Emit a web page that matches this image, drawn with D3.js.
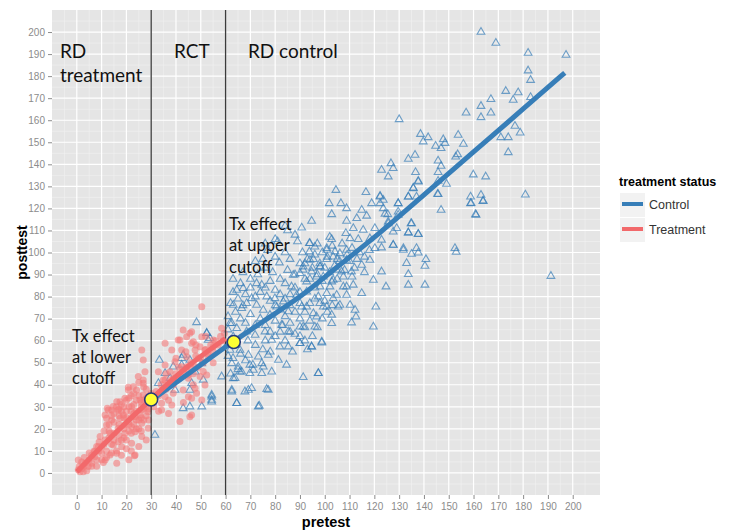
<!DOCTYPE html>
<html>
<head>
<meta charset="utf-8">
<script src="https://cdn.jsdelivr.net/npm/d3@7"></script>
<style>
body { margin: 0; background: #fff; }
svg { display: block; }
</style>
</head>
<body>
<div id="chart"></div>
<script>
// pretest / posttest pairs
const controlPoints = [
  [163,200],[169,195],[182,190.5],[197.3,189.6],[182,182.5],[183,178.2],[173,173.2],[178,172.6],[176,169.2],[183,170.4],
  [167,169.5],[163,166.4],[167,163.4],[163,161.3],[157,163.4],[130,160.4],[176.7,157.4],[178.8,154.3],[174,152.2],[171,152.2],
  [174,145.4],[153.8,153.3],[155.9,149.2],[138.6,153.7],[141.7,152.2],[139.7,150.3],[147.8,151.3],[148.5,149.6],[144.7,148.3],[146.9,147.3],
  [153.6,144.5],[152.8,143.4],[136.4,144.2],[133.7,142.4],[126.7,140.4],[127.6,138.2],[122.9,137.4],[125.6,134.4],[145.7,141.6],[146.9,139.2],
  [145.7,136.4],[136.6,136.4],[137.7,132.4],[135.7,129.3],[145.7,132.4],[149.1,131.1],[159.9,135.3],[164.9,134.4],[158.8,125.3],[163,126.1],
  [158.8,122.3],[163.9,123.4],[160.8,117.3],[180.9,126.2],[145.7,126.4],[146.9,119.3],[133.7,125.3],[137,125.3],[129.6,122.3],[123.6,123.8],
  [122.3,125.3],[124.3,117.5],[129.6,118.5],[134.8,113.2],[125.6,113.2],[127.6,109.4],[133.7,109],[137.7,108.4],[127.6,103.4],[131.7,101.9],
  [137,101.9],[152.5,101.9],[122.9,105.7],[191.2,89.3],[153,100.2],[159,122.4],[161,117],[163.8,123.3],
  [104.5,128.3],[116.6,127.3],[122.3,125.6],[135.7,129.1],[137.7,132.1],[133.7,125.3],[145.5,126.5],[101.8,122.3],[106.5,122.3],[108.8,120],
  [102.8,117.3],[114.9,119.3],[116.9,116.6],[118.9,122.3],[122.3,122.3],[123.6,120],[125.4,117.3],[129.6,122.3],[129.6,117],[94.7,114.3],
  [90.7,111.2],[108.8,114.3],[112.9,115.5],[111.5,111],[115.5,110.2],[120.2,111],[125.6,114],[129,111],[135,113.2],[133.7,109],
  [137.7,108.3],[108.5,108.7],[102.8,106],[110.2,106.4],[113.5,106],[118.2,106.4],[93.8,104.2],[96,102.6],[93.8,100.4],[100.8,101.9],
  [104.1,100.4],[108.8,101.1],[120.2,101.9],[122.9,102.2],[127.6,103.4],[131.7,101.1],[135,99.3],[137.7,99.9],[140.8,96.9],[140.4,93.9],
  [133,95.1],[133.7,90.1],[140.4,85.3],[133.7,85.3],[124.7,84.5],[119.6,87.5],[122.9,91.3],[118.2,96.6],[114.9,94.3],[110.8,91.3],
  [106.8,91.3],[100.8,96.9],[95.4,96.9],[91.3,92.1],[94.7,91.3],[98.1,93.6],[99.4,89],[103.4,87.5],[102.1,84.5],[107.5,84.5],
  [111.5,85.3],[114.9,81.5],[108.8,80.7],[104.8,80.7],[106.1,76.2],[110.2,76.2],[112.2,73.9],[120.6,75.4],[97.4,80],[92.7,82.2],
  [90.7,75.4],[95.4,72.4],[100.8,75.4],[102.8,67.9],[110.8,68.2],[112.6,70.9],[119.6,66.3],[91.3,66.3],[94.7,57.3],[98.8,59.1],
  [97.4,45.2],[90,58.8],
  [81.7,95.4],[94,104.2],[64.5,83],[67.1,83.8],[72.5,86],[74.6,85.3],[70.5,79.2],[76.6,80],[79.9,79.2],[63.1,76.2],
  [66.5,74.7],[68.5,77],[72.5,76.2],[75.2,73.9],[77.9,71.7],[80.6,75.4],[83.3,77.7],[85.3,73.2],[88.7,80.7],[90,77],
  [92.7,75.4],[87.3,89.8],[90,90.6],[92.7,86.8],[84,86],[86.6,84.5],[96.7,89],[98.1,84.5],[100.8,81.5],[103.4,79.2],
  [105.4,75.4],[102.8,71.7],[99.4,75.4],[96.7,70.9],[96,66.3],[90,66.3],[85.3,64.1],[82.6,67.1],[78.6,60.3],[81.9,57.3],
  [85.3,57.3],[90,58.8],[94.7,57.3],[98.8,59.5],[75.9,64.1],[71.9,62.6],[68.5,64.1],[64.5,65.6],[62.5,67.9],[63.1,61.8],
  [61.8,55.8],[65.8,55.8],[69.2,53.5],[73.2,52.7],[77.2,53.5],[81.3,51.2],[84.6,49],[74.6,49.7],[69.8,49],[65.1,48.2],
  [62.5,49.7],[66.5,45.9],[69.8,45.2],[74.6,45.2],[78.6,45.9],[91.3,43.4],[97.4,45.2],[63.1,42.9],[62.5,36.9],[67.8,36.9],
  [70.5,38.4],[77.2,37.6],[64.5,31.6],[73.6,30.4],[54.4,34.6],[54.4,32.3],[52.4,63.4],
  [100.8,101.1],[103.4,98.1],[106.1,99.6],[108.8,96.6],[98.1,93.6],[104.8,92.1],[107.5,89],[102.8,86.8],[108.8,84.5],[94,96.6],[91.3,93.6],
  [99,100],[101,98],[103,103],[105,97],[107,104],[109,99],[111,102],[113,97],[98,95],[100,93],
  [104,94],[106,96],[112,93],[114,100],[116,98],[118,101],[96,99],[97,104],[102,107],[110,96],
  [108,92],[95,93],[93,97],[91,100],[92,95],[94,88],[97,90],[99,87],[102,91],[105,88],[111,89],[116,91],
  [66,86],[68,81],[70,84],[72,80],[74,82],[76,84],[78,87],[80,83],[82,81],[84,79],
  [86,81],[88,84],[90,82],[78,78],[80,76],[82,74],[84,71],[86,76],[88,73],[90,70],
  [92,73],[94,77],[96,79],[98,77],[94,69],[92,66],[88,63],[86,68],[82,64],[80,69],
  [76,67],[74,70],[72,67],[70,72],[68,68],[66,70],[64,73],[62,77],[63,82],[65,79],
  [67,76],[69,60],[72,58],[75,56],[78,55],[80,62],[84,60],[87,55],[92,60],[95,62],
  [97,66],[99,70],[101,73],[103,76],[100,78],[96,84],[92,88],[88,90],[85,92],[82,88],
  [79,91],[76,93],[73,90],[70,88],[67,91],[86,97],[90,95],[84,100],[80,98],[77,101],
  [89,105],[85,110],[81,105],[75,97],[72,96],[62,60],[61,65],[64,58],[66,54],[68,51],
  [71,49],[63,52],[65,47],[62,45],[60.5,58],[61,71],[63,88],[61,53],[76,60],[78,64],
  [83,67],[86,64],[90,62],[93,56],[84,112],[88,108],[80,106],[76,104],
  [33.3,51.2],[31.5,17.2],[48.3,68.3],[52.4,63.4],[53.7,61.1],[42.3,52],[45.6,51.2],[50.4,49.7],[37.6,43],[35.6,45.2],
  [47.7,45.9],[45.6,37.6],[39.6,37.6],[54.4,35.4],[54.4,33.1],[42.9,29.3],[45.6,30.1],[50.4,30.1],[42.3,49],[38.9,48.2],
  [32.9,40.7],[46.3,40.7],[51,42.2],[53,60.3],[58.4,43.7],[42.9,53.5],
  [62.5,37.6],[64.5,31.6],[69.2,37.6],[73.2,30.1],[76.6,38],[63.8,43],[65.8,45.9],[71.2,46.7],[75.2,48.2],[61.8,67.9]
];

const treatmentPoints = [
  [50.4,75.4],[58.4,65.6],[59.5,63.4],[42.9,64.9],[46.3,64.1],[44.3,61.8],[50.4,61.8],[40.9,60.3],[47,59.5],[26.2,55.8],
  [35.6,58.8],[38.3,55.8],[42.3,55.8],[47.7,55.8],[51.7,55.8],[55,57.3],[44.3,52.7],[49,52],[53,52.7],[39.6,50.5],
  [35.6,49],[42.3,48.2],[46.3,47.5],[37.6,45.9],[32.9,45.9],[40.9,43.7],[44.9,44.4],[49.7,43.7],[34.9,42.2],[38.3,40.7],
  [47.7,38.4],[42.9,37.6],[38.9,36.1],[35.6,34.6],[46.3,33.9],[50.4,33.1],[34.2,31.6],[38.3,30.8],[45.6,25.5],[41.6,23.3],
  [26.8,51.2],[27.5,45.9],[24.8,43.7],[26.8,40.7],[22.8,39.1],[20.8,37.6],[24.1,37.6],[26.8,35.4],[28.8,33.1],[25.5,33.1],
  [19.4,33.9],[17.4,32.3],[14.7,30.1],[12.7,28.6],[16.7,28.6],[22.1,30.1],[26.2,28.6],[28.8,27.8],[18.8,26.3],[23.5,25.5],
  [11.4,26.3],[14.1,24],[20.8,23.3],[26.2,22.5],[28.8,20.3],[16.7,20.3],[23.5,18.7],[19.4,18],[13.4,18],[26.2,16.5],
  [11.4,15],[16.7,14.2],[23.5,8.2],[16.1,8.9],[8.7,11.9],[10,8.9],[7.3,7.4],[6,4.4],[11.4,5.9],[3.3,4.4],
  [0.6,5.9],[0.6,1.4],[2.6,0.6],[4.6,2.9],[18.1,11.9],[22.1,13.5],[14.7,12.7],[19.4,21.8],[17.4,24.8],[22.1,21],
  [25.5,26.3],[12,21.8],[9.4,16.5],[7.3,9.7],[1.3,0.6],[10.7,4.7],[16.1,4.4],[23.2,7.8],[13.4,8.2],[12.3,29.3],
  [14.1,28.6],[12,24.8],[16.1,32.3],[20.8,38.9],[26.8,42.2],[41.6,60.3],[46.3,26.3],[34.2,28.6],[35.6,42.2],[38.9,43],
  [45.6,63.4],[46.3,58.8],[49.7,57.3],[55,60.3],[44.3,48.2],[47.7,48.2],[52.4,44.4],[51.7,39.9],[48.3,36.1],[45,34.6],
  [15,18],[17,22],[19,25],[21,22],[23,27],[25,24],[27,29],[20,28],[18,15],[14,13],
  [12,10],[10,12],[16,10],[22,18],[24,20],[26,25],[28,30],[29,35],[27,33],[21,30],
  [19,20],[13,22],[15,27],[25,35],[23,31],[17,29],[11,19],[9,14],[7,10],[5,6],
  [3,3],[2,5],[4,1],[6,8],[8,6],[20,15],[22,25],[24,28],[26,32],[28,38],
  [30,36],[32,37],[34,40],[36,38],[38,42],[40,45],[42,44],[44,47],[46,50],[48,53],
  [50,52],[52,56],[54,58],[56,60],[58,62],[31,30],[33,35],[35,38],[37,33],[39,40],
  [41,48],[43,46],[45,43],[47,45],[49,48],[51,50],[53,54],[55,55],[57,58],[59,60],
  [36,45],[40,52],[44,55],[48,58],[52,62],[33,28],[37,27],[43,32],[47,40],[51,46],[55,50],
  [14,26],[16,30],[18,31],[20,33],[22,35],[24,33],[18,28],[20,25],[22,28],[24,24],
  [26,30],[28,26],[27,24],[25,20],[23,22],[21,19],[19,16],[17,17],[15,15],[13,16],
  [11,13],[9,10],[8,12],[10,6],[12,7],[14,9],[20,11],[22,10],[26,19],[29,24],
  [29,29],[28,34],[27,39],[25,41],[23,36],[21,34],[19,30],[17,26],[15,23],[13,19],
  [5,9],[3,7],[1,3],[2,2],[6,3],[8,3],[18,8],[21,6],[25,12],[28,15]
];

// fitted lines (smooth) per group
const controlFitX = [30, 45, 63, 75, 90, 105, 122, 140, 160, 180, 196.8];
const controlFitY = [33, 45, 59.5, 68.6, 80, 93.4, 108.8, 126.1, 145.6, 165.1, 181.5];
const treatFitX = [0, 15, 30, 45, 60];
const treatFitY = [0.5, 17.5, 33.5, 48.5, 61];

const cutoffs = [30, 60];
const effectX = [30, 63.3];
const effectY = [33.3, 59.4];

const xTicks = [0, 10, 20, 30, 40, 50, 60, 70, 80, 90, 100, 110, 120, 130, 140, 150, 160, 170, 180, 190, 200];
const yTicks = [0, 10, 20, 30, 40, 50, 60, 70, 80, 90, 100, 110, 120, 130, 140, 150, 160, 170, 180, 190, 200];
const legendLabels = ['Control', 'Treatment'];

const blue = '#377EB8';
const red = '#F2696B';

let margin = {top: 10, right: 132, bottom: 36, left: 52};
let width = 732 - margin.left - margin.right;
let height = 531 - margin.top - margin.bottom;

let svg = d3.select('#chart').append('svg')
    .attr('width', 732)
    .attr('height', 531)
    .style('font-family', '"Liberation Sans", Arial, sans-serif');

let g = svg.append('g')
    .attr('transform', 'translate(' + margin.left + ',' + margin.top + ')');

let x = d3.scaleLinear().domain([-10, 211]).range([0, width]);
let y = d3.scaleLinear().domain([-10, 210]).range([height, 0]);

// panel + grid
g.append('rect').attr('width', width).attr('height', height).attr('fill', '#E5E5E5');

let minorX = xTicks.map(d => d - 5).concat([205]);
let minorY = yTicks.map(d => d - 5).concat([205]);

g.selectAll('.minor-x').data(minorX).enter().append('line')
    .attr('x1', d => x(d)).attr('x2', d => x(d))
    .attr('y1', 0).attr('y2', height)
    .attr('stroke', '#F2F2F2').attr('stroke-width', 0.6);
g.selectAll('.minor-y').data(minorY).enter().append('line')
    .attr('y1', d => y(d)).attr('y2', d => y(d))
    .attr('x1', 0).attr('x2', width)
    .attr('stroke', '#F2F2F2').attr('stroke-width', 0.6);
g.selectAll('.major-x').data(xTicks).enter().append('line')
    .attr('x1', d => x(d)).attr('x2', d => x(d))
    .attr('y1', 0).attr('y2', height)
    .attr('stroke', '#fff').attr('stroke-width', 1.2);
g.selectAll('.major-y').data(yTicks).enter().append('line')
    .attr('y1', d => y(d)).attr('y2', d => y(d))
    .attr('x1', 0).attr('x2', width)
    .attr('stroke', '#fff').attr('stroke-width', 1.2);

// axes
let xAxis = g.append('g')
    .attr('transform', 'translate(0,' + height + ')')
    .call(d3.axisBottom(x).tickValues(xTicks).tickSize(4).tickPadding(4));
let yAxis = g.append('g')
    .call(d3.axisLeft(y).tickValues(yTicks).tickSize(4).tickPadding(3));
[xAxis, yAxis].forEach(a => {
    a.select('.domain').remove();
    a.selectAll('.tick line').attr('stroke', '#8C8C8C');
    a.selectAll('.tick text').attr('fill', '#8C8C8C').style('font-size', '10px');
});

// points
let tri = d3.symbol().type(d3.symbolTriangle).size(26);
g.selectAll('.ctrl').data(controlPoints).enter().append('path')
    .attr('d', tri)
    .attr('transform', d => 'translate(' + x(d[0]) + ',' + y(d[1]) + ')')
    .attr('fill', 'none')
    .attr('stroke', blue)
    .attr('stroke-opacity', 0.7)
    .attr('stroke-width', 1.1);

g.selectAll('.trt').data(treatmentPoints).enter().append('circle')
    .attr('cx', d => x(d[0]))
    .attr('cy', d => y(d[1]))
    .attr('r', 3.5)
    .attr('fill', '#F47A7A')
    .attr('fill-opacity', 0.6);

// cutoff lines
g.selectAll('.cut').data(cutoffs).enter().append('line')
    .attr('x1', d => x(d)).attr('x2', d => x(d))
    .attr('y1', 0).attr('y2', height)
    .attr('stroke', '#3C3C3C').attr('stroke-width', 1.3);

// fitted lines
let line = d3.line().x(d => x(d[0])).y(d => y(d[1])).curve(d3.curveMonotoneX);
g.append('path')
    .datum(controlFitX.map((d, i) => [d, controlFitY[i]]))
    .attr('d', line)
    .attr('fill', 'none').attr('stroke', blue).attr('stroke-width', 5);
g.append('path')
    .datum(treatFitX.map((d, i) => [d, treatFitY[i]]))
    .attr('d', line)
    .attr('fill', 'none').attr('stroke', red).attr('stroke-width', 5);

// effect markers
g.selectAll('.eff').data(effectX).enter().append('ellipse')
    .attr('cx', d => x(d))
    .attr('cy', (d, i) => y(effectY[i]))
    .attr('rx', 6.5).attr('ry', 6.5)
    .attr('fill', '#FFFF33')
    .attr('stroke', '#263A7A').attr('stroke-width', 1.6);

// annotations
let notes = [
    {x: -6.8, y: 188.2, lines: ['RD', 'treatment'], size: 19, lh: 24},
    {x: 39.2, y: 188.2, lines: ['RCT'], size: 19, lh: 24},
    {x: 69, y: 188.2, lines: ['RD control'], size: 19, lh: 24},
    {x: 61.4, y: 110.4, lines: ['Tx effect', 'at upper', 'cutoff'], size: 16.5, lh: 21.5},
    {x: -1.9, y: 59.4, lines: ['Tx effect', 'at lower', 'cutoff'], size: 16.5, lh: 21}
];
notes.forEach(n => {
    let t = g.append('text')
        .attr('x', x(n.x)).attr('y', y(n.y))
        .style('font-family', 'Lato, "Open Sans", sans-serif')
        .style('font-size', n.size + 'px')
        .attr('fill', '#111');
    n.lines.forEach((s, i) => {
        t.append('tspan').attr('x', x(n.x)).attr('dy', i ? n.lh : 0).text(s);
    });
});

// axis titles
svg.append('text')
    .attr('transform', 'translate(27,' + (margin.top + height / 2) + ') rotate(-90)')
    .attr('text-anchor', 'middle')
    .style('font-size', '14px').style('font-weight', 'bold')
    .text('posttest');
svg.append('text')
    .attr('x', margin.left + width / 2).attr('y', 527)
    .attr('text-anchor', 'middle')
    .style('font-size', '14.5px').style('font-weight', 'bold')
    .text('pretest');

// legend
let legend = svg.append('g').attr('transform', 'translate(619,0)');
legend.append('text')
    .attr('x', 0).attr('y', 186)
    .style('font-size', '12.5px').style('font-weight', 'bold')
    .text('treatment status');
[blue, red].forEach((c, i) => {
    let k = legend.append('g').attr('transform', 'translate(1,' + (193 + i * 25) + ')');
    k.append('rect').attr('width', 25).attr('height', 24).attr('fill', '#F2F2F2');
    k.append('line').attr('x1', 2).attr('x2', 23).attr('y1', 11).attr('y2', 11)
        .attr('stroke', c).attr('stroke-width', 4);
    k.append('text').attr('x', 29).attr('y', 16)
        .style('font-size', '12.5px').attr('fill', '#333')
        .text(legendLabels[i]);
});
</script>
</body>
</html>
